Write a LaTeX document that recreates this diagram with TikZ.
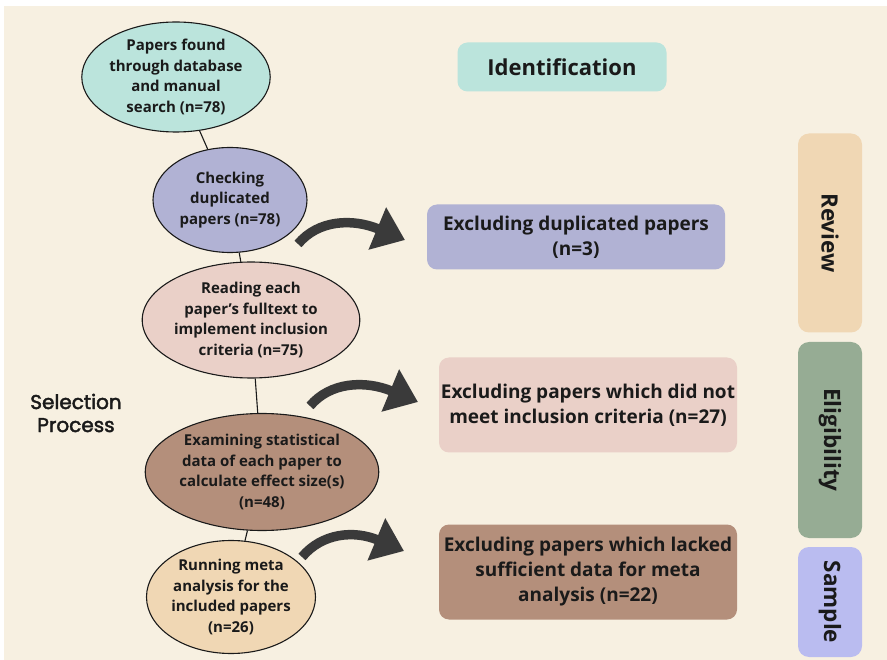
\documentclass[tikz,border=0pt]{standalone}
\usepackage{fontspec}
\setmainfont{Open Sans}
\newfontfamily\sidefont[FakeBold=2.2]{Poppins}
\usetikzlibrary{positioning,arrows.meta,shapes.geometric}
\definecolor{PageCream}{RGB}{247,240,225}
\definecolor{IdTeal}{RGB}{187,228,220}
\definecolor{DupLilac}{RGB}{177,178,212}
\definecolor{InclPink}{RGB}{234,208,200}
\definecolor{DataBrown}{RGB}{180,143,123}
\definecolor{MetaTan}{RGB}{240,215,180}
\definecolor{EligGreen}{RGB}{150,172,148}
\definecolor{SampleBlue}{RGB}{186,188,240}
\definecolor{ArrowGrey}{RGB}{58,58,58}
\definecolor{InkBlack}{RGB}{26,26,26}
\tikzset{
  stage/.style={ellipse,draw=InkBlack,line width=1.1pt,inner sep=0pt,
    align=center,text=InkBlack,font=\fontsize{15}{20.5}\selectfont\bfseries},
  result/.style={rounded corners=10pt,inner sep=0pt,minimum width=298pt,
    align=center,text=InkBlack,font=\fontsize{19}{25}\selectfont\bfseries},
  phase/.style={rounded corners=11pt,inner sep=0pt,minimum height=64pt,
    rotate=-90,text=InkBlack,font=\fontsize{22.5}{24}\selectfont\bfseries},
  link/.style={line width=1.1pt,draw=InkBlack},
  skip/.style={line width=9.5pt,draw=ArrowGrey,
    -{Triangle[length=30pt,width=44pt]}}
}

\begin{document}
\begin{tikzpicture}[x=1pt,y=-1pt]
  % page
  \fill[white] (0,0) rectangle (887,660);
  \fill[PageCream] (4,6) rectangle (887,660);
  \useasboundingbox (0,0) rectangle (887,660);

  % selection process stages
  \node[stage,fill=IdTeal,minimum width=177pt,minimum height=110pt] (found) at (176,77)
    {Papers found\\through database\\and manual\\search (n=78)};
  \node[stage,fill=DupLilac,minimum width=154pt,minimum height=105pt] (dupcheck) at (230,200)
    {Checking\\duplicated\\papers (n=78)};
  \node[stage,fill=InclPink,minimum width=203pt,minimum height=116pt] (fulltext) at (251,320)
    {Reading each\\paper’s fulltext to\\implement inclusion\\criteria (n=75)};
  \node[stage,fill=DataBrown,minimum width=218pt,minimum height=117pt] (effsize) at (262,472)
    {Examining statistical\\data of each paper to\\calculate effect size(s)\\(n=48)};
  \node[stage,fill=MetaTan,minimum width=165pt,minimum height=113pt] (metarun) at (231,597)
    {Running meta\\analysis for the\\included papers\\(n=26)};
  \draw[link] (found) -- (dupcheck);
  \draw[link] (dupcheck) -- (fulltext);
  \draw[link] (fulltext) -- (effsize);
  \draw[link] (effsize) -- (metarun);

  \node[align=center,text=InkBlack,font=\sidefont\fontsize{20}{23}\selectfont] (selproc) at (76,413)
    {Selection\\Process};

  % exclusions
  \node[result,fill=IdTeal,minimum width=209pt,minimum height=49pt,
    font=\fontsize{22}{25}\selectfont\bfseries] (ident) at (562,67) {Identification};
  \node[result,fill=DupLilac,minimum height=65pt] (dupout) at (576,237)
    {Excluding duplicated papers\\(n=3)};
  \node[result,fill=InclPink,minimum height=95pt] (inclout) at (588,405)
    {Excluding papers which did not\\meet inclusion criteria (n=27)};
  \node[result,fill=DataBrown,minimum height=95pt] (dataout) at (588,572)
    {Excluding papers which lacked\\sufficient data for meta\\analysis (n=22)};

  \coordinate (skipA) at (298,244);
  \coordinate (skipB) at (310,406);
  \coordinate (skipC) at (302,557);
  \draw[skip] (skipA) .. controls (318,220) and (352,218) .. (405,240);
  \draw[skip] (skipB) .. controls (330,382) and (365,380) .. (418,402);
  \draw[skip] (skipC) .. controls (322,533) and (354,530) .. (404,551);

  % phases
  \node[phase,fill=MetaTan,minimum width=199pt] (review) at (830,233) {Review};
  \node[phase,fill=EligGreen,minimum width=196pt] (elig) at (830,440) {Eligibility};
  \node[phase,fill=SampleBlue,minimum width=110pt] (sample) at (830,602) {Sample};
\end{tikzpicture}
\end{document}
